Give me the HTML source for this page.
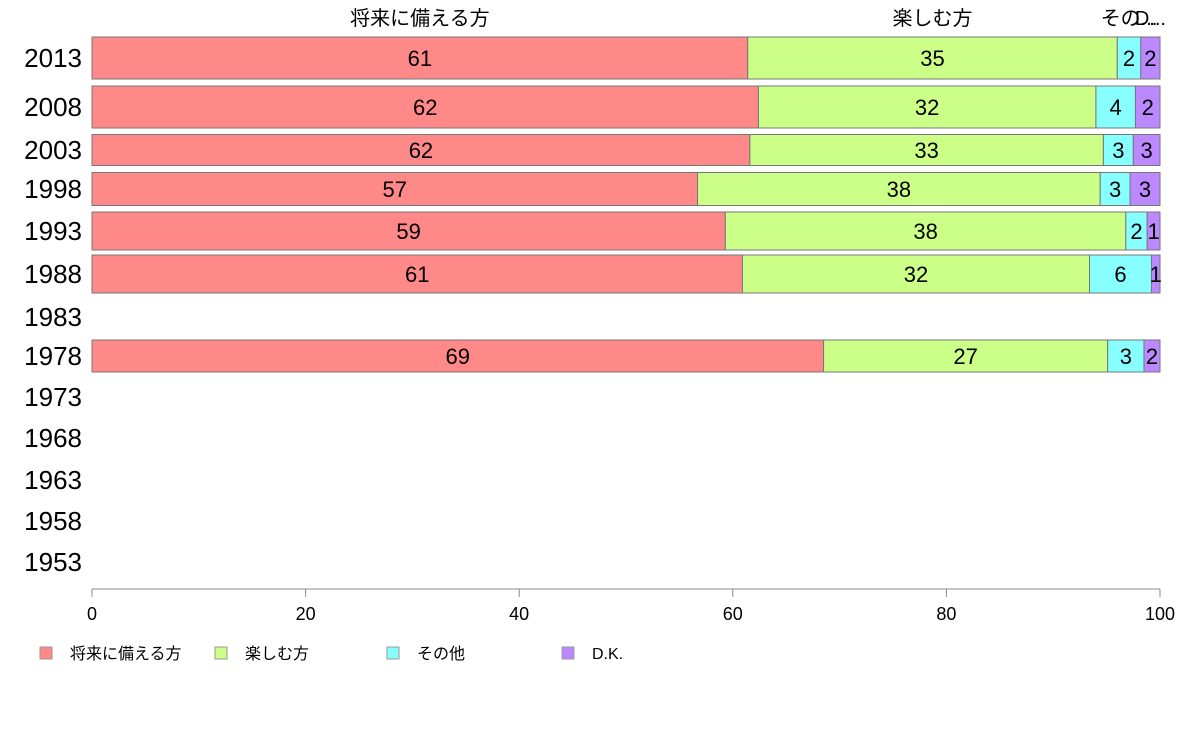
<!DOCTYPE html>
<html><head><meta charset="utf-8"><style>
body{margin:0;background:#fff;width:1188px;height:736px;overflow:hidden;font-family:"Liberation Sans","Noto Sans CJK JP",sans-serif}
</style></head><body>
<svg id="chart" width="1188" height="736" xmlns="http://www.w3.org/2000/svg" font-family="Liberation Sans, Noto Sans CJK JP, sans-serif"></svg>
<script>
const years=["2013","2008","2003","1998","1993","1988","1983","1978","1973","1968","1963","1958","1953"];
const sFuture=[61.4,62.4,61.6,56.7,59.3,60.9,null,68.5,null,null,null,null,null];
const sEnjoy=[34.6,31.6,33.1,37.7,37.5,32.5,null,26.6,null,null,null,null,null];
const sOther=[2.2,3.7,2.8,2.8,2.0,5.8,null,3.4,null,null,null,null,null];
const sDK=[1.8,2.3,2.5,2.8,1.2,0.8,null,1.5,null,null,null,null,null];
const lFuture=[61,62,62,57,59,61,null,69,null,null,null,null,null];
const lEnjoy=[35,32,33,38,38,32,null,27,null,null,null,null,null];
const lOther=[2,4,3,3,2,6,null,3,null,null,null,null,null];
const lDK=[2,2,3,3,1,1,null,2,null,null,null,null,null];
const seriesNames=["将来に備える方","楽しむ方","その他","D.K."];
const xTicks=[0,20,40,60,80,100];
// layout (not data)
const rowCenter=[58,107,150,189,231,274,317,356,397,438,480,521,562];
const rowH=[42,42,31,33,38,38,0,32,0,0,0,0,0];
const colors=["#ff8888","#ccff88","#88ffff","#bb88ff"];
const NS="http://www.w3.org/2000/svg";
const svg=document.getElementById('chart');
const x=v=>92+v*(1160-92)/100;
function mk(t,a,txt){const e=document.createElementNS(NS,t);for(const k in a)e.setAttribute(k,a[k]);if(txt!=null)e.textContent=txt;svg.appendChild(e);return e;}
const data=[sFuture,sEnjoy,sOther,sDK], labs=[lFuture,lEnjoy,lOther,lDK];
years.forEach((y,i)=>{
  const t=mk('text',{x:82,y:rowCenter[i]+9,'text-anchor':'end','font-size':26,fill:'#000'},y);
  
  
  if(data[0][i]==null)return;
  let acc=0;
  data.forEach((s,j)=>{
    const v=s[i];
    const r=mk('rect',{x:x(acc),y:rowCenter[i]-rowH[i]/2,width:x(acc+v)-x(acc),height:rowH[i],fill:colors[j],stroke:'#777','stroke-width':1});
    
    
    const l=mk('text',{x:(x(acc)+x(acc+v))/2,y:rowCenter[i]+8,'text-anchor':'middle','font-size':22,fill:'#000'},labs[j][i]);
    
    
    acc+=v;
  });
});
// column headers from first row
let acc=0;
const hdr=[seriesNames[0],seriesNames[1],"その...","D..."];
data.forEach((s,j)=>{
  const v=s[0];
  const h=mk('text',{x:(x(acc)+x(acc+v))/2,y:25,'text-anchor':'middle','font-size':20,fill:'#000'},hdr[j]);
  
  
  acc+=v;
});
// axis
const ax=mk('line',{x1:92,x2:1160,y1:589,y2:589,stroke:'#888'});


xTicks.forEach(t=>{
  const tk=mk('line',{x1:x(t),x2:x(t),y1:589,y2:597,stroke:'#888'});
  
  
  const tl=mk('text',{x:x(t),y:620,'text-anchor':'middle','font-size':18,fill:'#000'},t);
  
  
});
const lx=[40,215,387,562];
seriesNames.forEach((n,j)=>{
  const b=mk('rect',{x:lx[j],y:647,width:12,height:12,fill:colors[j],stroke:'#999'});
  
  
  const lt=mk('text',{x:lx[j]+30,y:659,'font-size':16,fill:'#000'},n);
  
  
});
</script>
</body></html>
